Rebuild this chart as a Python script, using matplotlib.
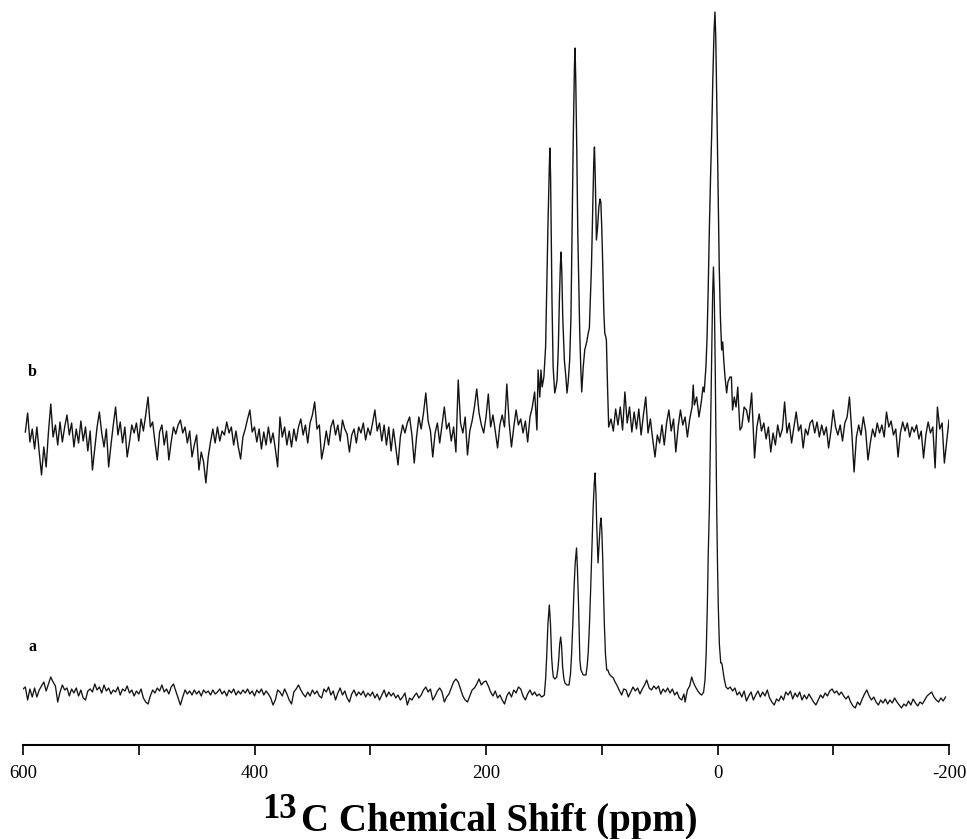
import numpy as np
import matplotlib
matplotlib.use("Agg")
import matplotlib.pyplot as plt

plt.rcParams['font.family'] = ['Liberation Serif', 'DejaVu Serif']
plt.rcParams['axes.unicode_minus'] = False

# ---------------- data (intensity above each trace's baseline) ----------
# trace b (upper): noisy left part, sampled every 2 ppm starting at 598 ppm
b_left_start = 598
b_left = [5, 24, -5, 8, -12, 10, -15, -38, -10, -30, 5, 33, 0, 12, -8, 15, -5, 10, 22, 2,
          14, -10, 8, -6, 16, -4, 10, -14, 6, -33, -12, 10, 25, 4, -10, 8, -30, -8, 12, 30,
          2, 15, -6, 10, -20, -5, 12, 4, 14, -4, 18, 6, 22, 40, 10, 15, -5, -23, 5, 12,
          -8, 6, -23, -5, 10, 3, 12, 17, 4, 10, -6, 6, -20, -8, 2, -33, -15, -25, -46, -20,
          -5, 8, -6, 10, -4, 6, 2, 15, 4, 10, -8, 6, -10, -22, 0, 8, 18, 27, 5, 10,
          -5, 8, -12, 5, -8, 10, -6, 4, -12, -30, 20, 0, 10, -8, 6, -10, 8, -4, 10, 18,
          2, 12, -6, 14, 22, 35, 8, 12, -22, -10, 6, -8, 10, 17, 2, 12, -4, 17, 8, 3,
          -15, 2, 8, -6, 10, 4, 14, -3, 9, 2, 14, 27, 6, 14, -4, 12, -8, 10, -14, 8,
          -10, -28, 0, 12, 4, 14, 20, 2, -26, 0, 20, 8, 24, 44, 16, 6, -20, 4, 14, -6,
          12, 30, 8, 14, -4, 10, -15, 57, 14, 4, 20, -18, 6, 16, 30, 48, 24, 12, 4, 20,
          43, 10, 22, 6, -11, 12, 22, 10, 53, 14, -10, 10, 27, 12, 18, 4, 16, -5, 20, 30,
          45, 7]
# trace b: peak region (ppm, intensity)
b_peaks = [(155, 67), (153.5, 40), (152.5, 67), (151.5, 50), (150, 60), (148.5, 90),
           (147.7, 137), (146.5, 210), (145.3, 270), (144.8, 289), (144.2, 260), (143, 137),
           (142, 70), (140.6, 44), (139.5, 50), (138.6, 57), (137.5, 90), (136.6, 137),
           (135.8, 170), (135.2, 185), (134.5, 165), (133.7, 120), (132.3, 77), (131, 60),
           (130, 44), (129, 55), (127.7, 77), (126.6, 120), (125.7, 204), (124.6, 300),
           (123.6, 370), (123.1, 389), (122.5, 360), (121.6, 290), (120.7, 204), (119.8, 150),
           (119, 104), (118, 65), (117.3, 45), (116, 70), (114.7, 87), (113, 95), (111.5, 105),
           (110.7, 109), (109.8, 140), (108.9, 170), (107.8, 230), (106.9, 275), (106.3, 290),
           (105.6, 260), (104.6, 197), (103.6, 210), (102.5, 230), (101.5, 238), (100.8, 235),
           (100, 210), (99.1, 170), (98.2, 125), (97.4, 104), (96.5, 100), (96, 97), (95, 50),
           (94, 10), (92, 18), (90, 6), (88, 28), (86, 12), (84, 30), (82, 7), (80, 45),
           (78, 14), (76, 30), (74, 5), (72, 25), (70, 8), (68, 28), (66, 2), (64, 22),
           (62, 40), (60, 4), (58, 18), (56, -2), (54, -20), (52, 2), (50, -6), (48, 12),
           (46, -8), (44, 14), (42, 27), (40, 6), (38, 18), (36, -15), (34, 10), (32, 27),
           (30, 12), (28, 20), (26, 0), (24, 18), (22, 30), (21, 52), (20, 32), (18, 40),
           (16, 20), (14, 35), (12.5, 50), (11.5, 45), (10, 70), (9, 100), (8, 150), (7, 210),
           (6, 260), (5, 304), (4, 360), (3, 405), (2.2, 425), (1.5, 400), (0.8, 350),
           (0.2, 304), (-0.6, 240), (-1.5, 170), (-2.5, 120), (-3.6, 87), (-4.5, 95),
           (-5.5, 75), (-6.5, 60), (-7.9, 44), (-9, 55), (-10.8, 60), (-12, 60), (-13, 27),
           (-14.5, 40), (-16, 30), (-17.5, 50), (-19.4, 7), (-21, 10), (-23, 30), (-25, 27),
           (-27, 15), (-29.5, 44)]
# trace b: right part, every 2 ppm starting at -32 ppm
b_right_start = -32
b_right = [-21, 10, 23, 6, 14, -2, 10, -15, 4, -8, 12, 0, 8, 35, 4, 14, -6, 10, 25, 6,
           12, -11, 8, 2, 14, 17, 4, 15, 0, 12, 2, 10, -11, 6, 27, 10, 2, 12, -4, 14,
           20, 40, 5, -35, 0, 12, 2, 20, 6, -23, -6, 8, 0, 14, 4, 12, 0, 25, 10, 16,
           2, 8, -20, 4, 15, 6, 14, 0, 10, 5, 12, -2, 6, -21, 2, 15, 4, 10, -31, 30,
           8, 14, -26, -4, 17]

# trace a (lower): left part every 2 ppm starting at 600 ppm
a_left_start = 600
a_left = [5, 7, -6, 5, -3, 6, -3, 4, 8, 12, 3, 10, 17, 12, 8, -8, 2, 9, 4, 6,
          -2, 5, 1, 6, -2, 4, -4, -6, 3, 5, 2, 10, 4, 7, 1, 9, 3, 6, 0, 4,
          2, 7, -1, 5, 3, 8, 1, 4, -2, 3, 0, 5, -4, -8, -10, -2, 4, 1, 6, 3,
          9, 2, 5, 0, 7, 10, 3, -4, -11, -3, 4, 0, 3, -1, 4, 0, 3, -2, 4, 1,
          3, -1, 4, 0, 2, 5, 0, 3, -2, 4, 1, 5, -1, 3, 0, 4, 1, 5, 0, 3,
          -2, 4, 1, 5, -1, 3, 0, -4, -11, -6, 4, 2, -2, 5, 0, -6, -10, 2, 5, 9,
          4, 0, -3, 2, -2, 4, 0, 3, -2, -4, 5, 2, 7, -1, 3, -6, 1, 6, -1, 3,
          -4, -8, 0, 4, -2, 2, -1, 3, -3, 1, -2, 2, -4, 0, -6, -1, 4, -3, 2, -2,
          1, -4, -1, -6, -3, 1, -11, -4, -6, -2, 1, -4, -1, 4, 7, 2, 5, -6, -2, 3,
          6, 2, -8, -3, 0, 6, 12, 15, 12, 5, -2, -6, -8, -2, 4, 6, 10, 15, 9, 12,
          13, 8, 2, -2, 3, -4, -1, -6, -10, -2, 2, -3, 4, 1, 7, 5, -2, -6, 0, 4,
          -1, 2, -2, 0, -3]
a_peaks = [(150.5, -2), (149.6, -1), (148.5, 15), (147.6, 37), (146.5, 70), (145.3, 89),
           (144.3, 70), (143.3, 37), (142.5, 24), (141.8, 17), (140.5, 15), (138.9, 17),
           (137.9, 25), (137.2, 34), (136.3, 50), (135.5, 57), (134.7, 48), (133.8, 27),
           (132.8, 16), (131.8, 11), (130, 9), (128.3, 9), (127, 20), (126, 41), (125, 70),
           (124, 104), (123, 130), (121.8, 146), (121, 125), (120, 87), (118.9, 34), (118, 24),
           (116, 19), (113.6, 19), (112.6, 28), (111.7, 41), (110.6, 70), (109.6, 104),
           (108.4, 150), (107.4, 187), (106.5, 210), (105.8, 221), (105, 200), (104.4, 171),
           (103.2, 131), (102.1, 154), (101.3, 170), (100.6, 176), (99.9, 162), (99.2, 137),
           (98.5, 105), (97.8, 71), (96.8, 40), (95.7, 24), (94.7, 24), (93.5, 20), (92, 18),
           (90, 16), (88.5, 12), (87, 9), (85, 4), (82.8, -1), (81, 5), (79, 4), (77, -3),
           (75, 2), (73, 7), (71, 3), (69, 6), (67, 0), (65, 5), (63, 9), (61.2, 14), (59, 6),
           (57, 4), (55, 8), (53, 5), (51, 8), (49, 0), (47, 5), (45, 2), (43, 6), (41, 1),
           (39, 5), (37, -1), (35, 2), (33, -4), (30.9, -6), (29, 0), (28, -8), (26, 4),
           (24, 8), (22.3, 17), (21, 12), (19, 7), (17, 3), (15, 0), (13.6, -1), (12, 2),
           (10.8, 14), (9.8, 40), (8.8, 87), (8, 140), (7, 187), (6, 260), (5, 340), (4.2, 400),
           (3.5, 427), (2.8, 400), (2, 330), (1.2, 240), (0.7, 187), (0, 130), (-0.7, 87),
           (-1.6, 50), (-2.8, 31), (-3.6, 31), (-4.2, 28), (-5, 21), (-6, 14), (-7.3, 7)]
a_right_start = -9
a_right = [5, 7, 3, 6, -1, 2, -3, 3, -7, -2, 2, -6, -1, 3, -3, 2, -2, 4, -4, -8,
           -11, -5, -7, -2, -6, 2, -1, 3, -5, 1, -3, 2, -6, -1, -5, 0, -4, -8, -11, -6,
           -1, -4, 1, -2, 3, 5, 1, 3, -1, 2, -2, -5, -2, -8, -12, -14, -8, -11, -5, 0,
           4, -2, -6, -3, -8, -11, -6, -9, -5, -10, -6, -9, -4, -8, -11, -14, -10, -12, -7, -11,
           -5, -9, -12, -8, -10, -6, -2, 0, 2, -3, -6, -8, -4, -7, -3]

offset_b = 308
offset_a = 51
label_b, label_a = 'b', 'a'
major_ticks = [600, 400, 200, 0, -200]
major_labels = ['600', '400', '200', '0', '-200']
minor_ticks = [500, 300, 100, -100]
step = 2


def assemble(left_start, left, peaks, right_start, right):
    lp = left_start - step * np.arange(len(left))
    pp = np.array([p for p, _ in peaks])
    pv = np.array([v for _, v in peaks])
    rp = right_start - step * np.arange(len(right))
    x = np.concatenate([lp, pp, rp])
    y = np.concatenate([np.array(left, float), pv, np.array(right, float)])
    return x, y


xb, yb = assemble(b_left_start, b_left, b_peaks, b_right_start, b_right)
xa, ya = assemble(a_left_start, a_left, a_peaks, a_right_start, a_right)

fig = plt.figure(figsize=(9.67, 8.39), dpi=100)
ax = fig.add_axes([23 / 967, 94 / 839, 926 / 967, 745 / 839])
ax.plot(xb, yb + offset_b, color='#141414', lw=1.0)
ax.plot(xa, ya + offset_a, color='#141414', lw=0.95)
ax.set_xlim(600, -200)
ax.set_ylim(0, 745)

for s in ['left', 'top', 'right']:
    ax.spines[s].set_visible(False)
ax.spines['bottom'].set_linewidth(1.5)
ax.set_yticks([])
ax.set_xticks(major_ticks)
ax.set_xticklabels(major_labels)
ax.set_xticks(minor_ticks, minor=True)
ax.tick_params(axis='x', which='both', direction='out', length=7.2, width=1.2,
               labelsize=13.5, pad=7, color='black')

ax.text(592, 373, label_b, fontsize=11.5, fontweight='bold', ha='center', va='center')
ax.text(592, 98, label_a, fontsize=11.5, fontweight='bold', ha='center', va='center')

fig.text(262 / 967, (839 - 818) / 839, '13', fontsize=25, fontweight='bold',
         ha='left', va='baseline')
fig.text(301 / 967, (839 - 831.5) / 839, 'C Chemical Shift (ppm)', fontsize=28,
         fontweight='bold', ha='left', va='baseline')

fig.savefig('out.png', dpi=100)
